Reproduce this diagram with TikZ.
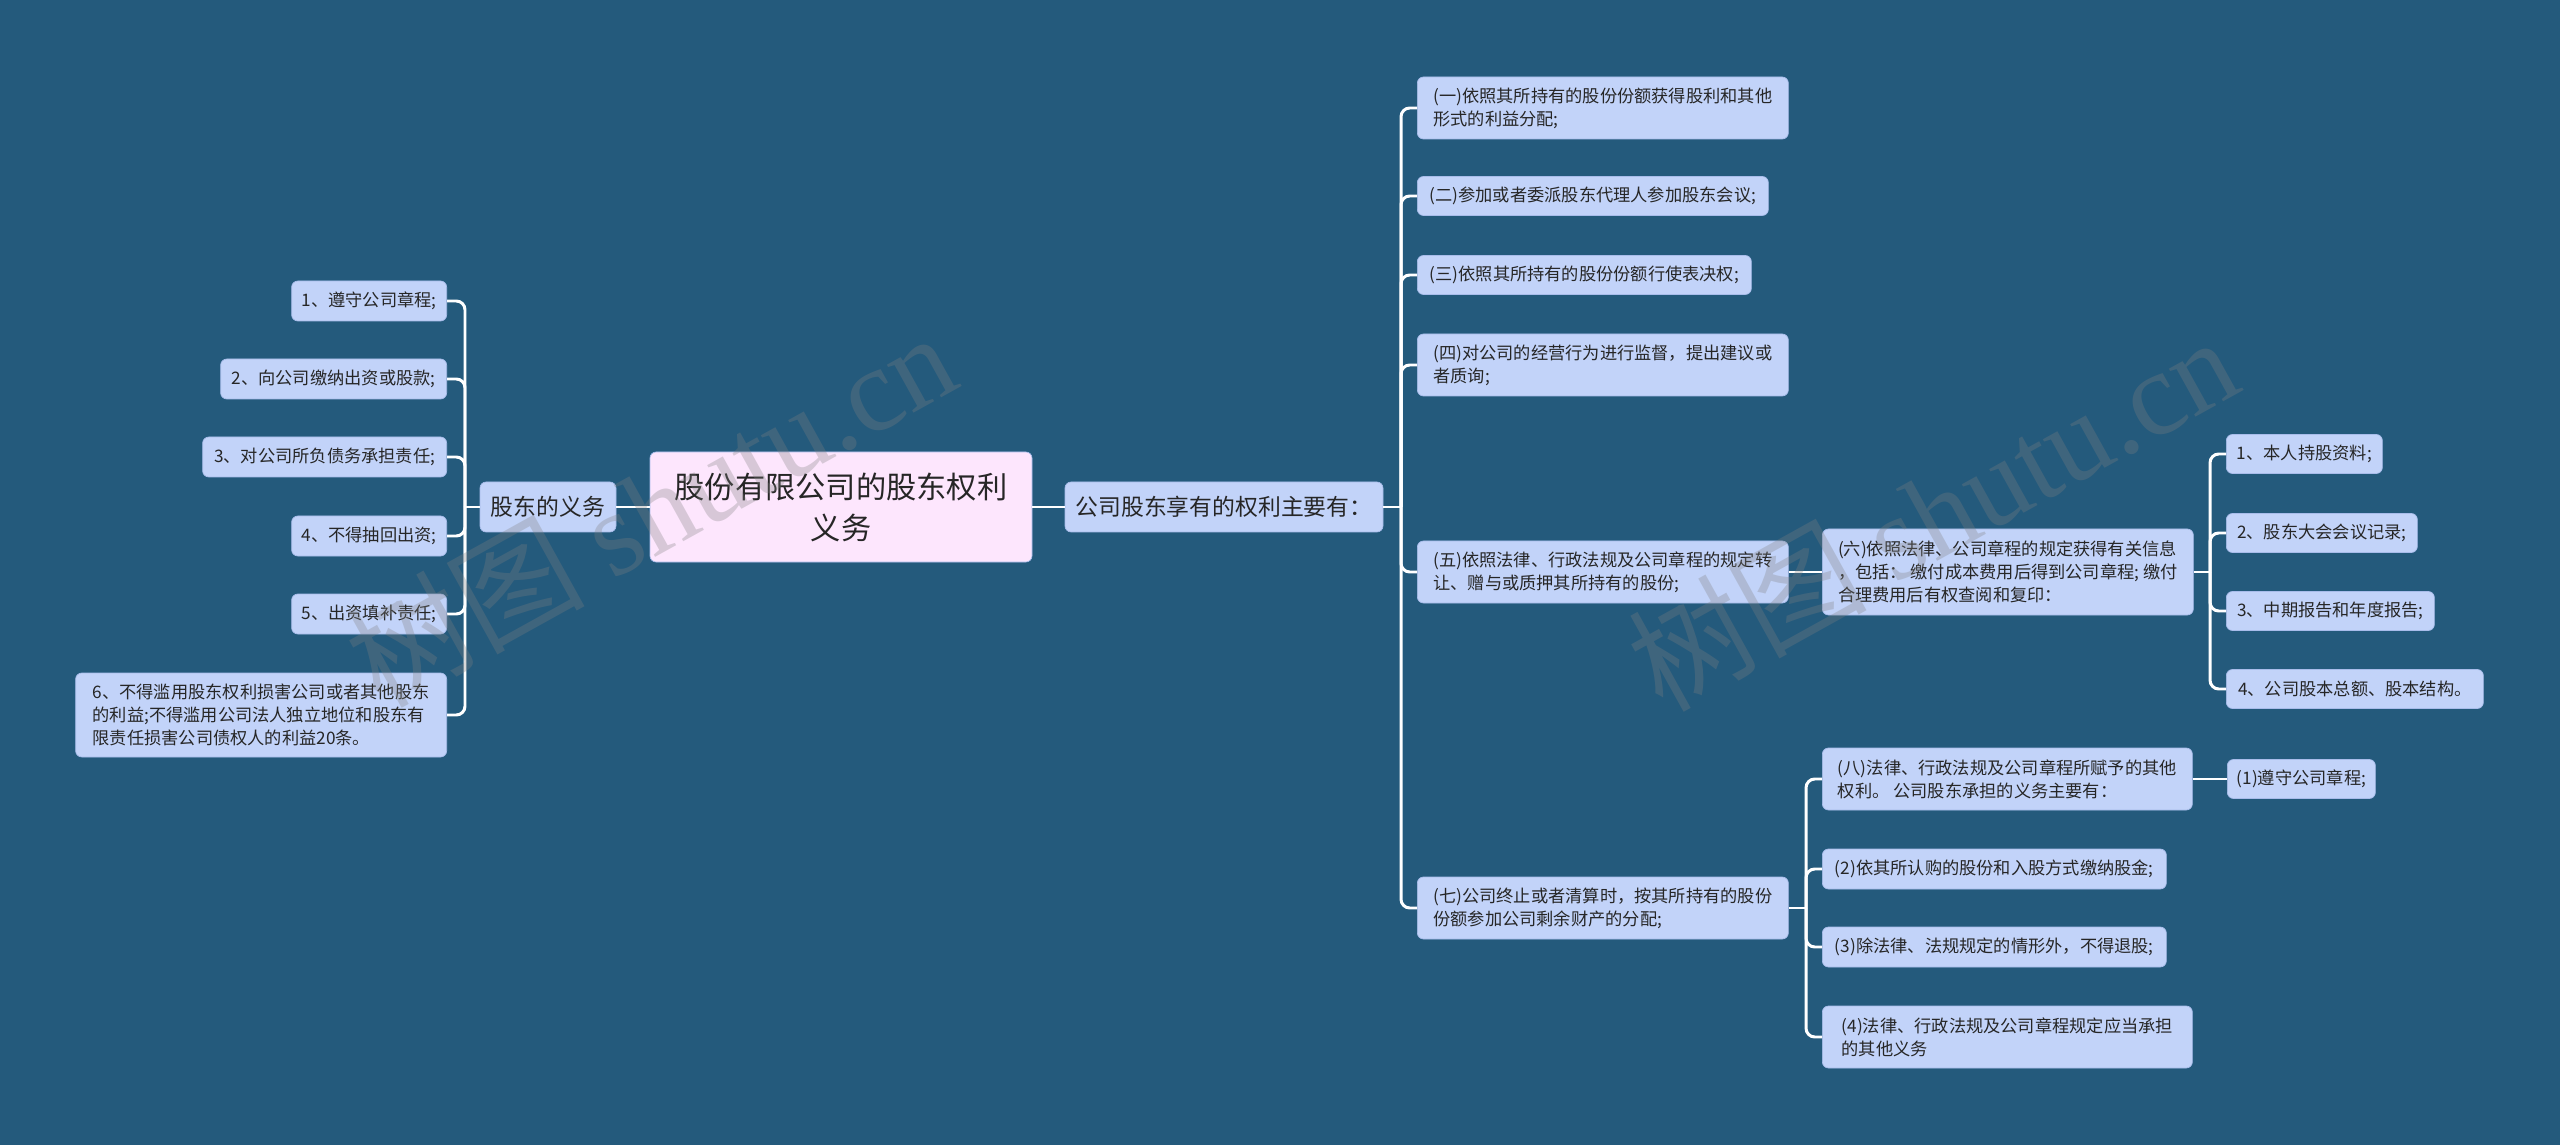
\documentclass[tikz,border=0pt]{standalone}
\usepackage{fontspec}
\setmainfont{Noto Sans CJK SC}
\newfontfamily\wmfont{Liberation Serif}
\usepackage{tikz}
\usetikzlibrary{calc}

\definecolor{bgblue}{RGB}{36,90,124}
\definecolor{boxblue}{RGB}{194,211,249}
\definecolor{boxedge}{RGB}{168,188,234}
\definecolor{rootpink}{RGB}{253,230,253}
\definecolor{txtgray}{RGB}{38,38,38}

\begin{document}
\begin{tikzpicture}[x=0.2mm, y=-0.2mm]
			\def\px{0.2mm}
			\tikzset{
				box/.style 2 args={draw=boxedge, line width=0.4pt, fill=boxblue, rounded corners=3.5pt, text=txtgray, align=left, inner xsep=4.5pt, inner ysep=2pt, minimum width=#1*\px, minimum height=#2*\px, font=\fontsize{9.8}{13.2}\selectfont},
				midbox/.style 2 args={box={#1}{#2}, font=\fontsize{13}{17}\selectfont},
				rootbox/.style 2 args={box={#1}{#2}, fill=rootpink, align=center, font=\fontsize{17.2}{23.3}\selectfont},
				link/.style={draw=white, line width=1.7pt},
				wmark/.style={text=gray, text opacity=0.3, font=\fontsize{68}{68}\selectfont}
			}

			\useasboundingbox (0,0) rectangle (2560,1145);
			\fill[bgblue] (0,0) rectangle (2560,1145);

			% centre
			\node (root) [rootbox={382}{110}] at (841,507) {股份有限公司的股东权利\\义务};
			\node (duty) [midbox={136}{50}] at (548,507) {股东的义务};
			\node (rights) [midbox={318}{50}] at (1224,507) {公司股东享有的权利主要有：};

			% duties, left side
			\node (d1) [box={155}{40}, anchor=east] at (447,301) {1、遵守公司章程;};
			\node (d2) [box={226}{40}, anchor=east] at (447,379) {2、向公司缴纳出资或股款;};
			\node (d3) [box={244}{40}, anchor=east] at (447,457) {3、对公司所负债务承担责任;};
			\node (d4) [box={155}{40}, anchor=east] at (447,536) {4、不得抽回出资;};
			\node (d5) [box={155}{40}, anchor=east] at (447,614) {5、出资填补责任;};
			\node (d6) [box={371}{84}, anchor=east] at (447,715) {6、不得滥用股东权利损害公司或者其他股东\\的利益;不得滥用公司法人独立地位和股东有\\限责任损害公司债权人的利益20条。};

			% rights
			\node (r1) [box={371}{62}, anchor=west] at (1417,108) {(一)依照其所持有的股份份额获得股利和其他\\形式的利益分配;};
			\node (r2) [box={351}{39}, anchor=west] at (1417,196) {(二)参加或者委派股东代理人参加股东会议;};
			\node (r3) [box={334}{39}, anchor=west] at (1417,275) {(三)依照其所持有的股份份额行使表决权;};
			\node (r4) [box={371}{62}, anchor=west] at (1417,365) {(四)对公司的经营行为进行监督，提出建议或\\者质询;};
			\node (r5) [box={371}{62}, anchor=west] at (1417,572) {(五)依照法律、行政法规及公司章程的规定转\\让、赠与或质押其所持有的股份;};
			\node (r7) [box={371}{62}, anchor=west] at (1417,908) {(七)公司终止或者清算时，按其所持有的股份\\份额参加公司剩余财产的分配;};

			\node (r6) [box={371}{86}, anchor=west] at (1822,572) {(六)依照法律、公司章程的规定获得有关信息\\，包括： 缴付成本费用后得到公司章程; 缴付\\合理费用后有权查阅和复印：};
			\node (i1) [box={156}{39}, anchor=west] at (2226,454) {1、本人持股资料;};
			\node (i2) [box={191}{39}, anchor=west] at (2226,533) {2、股东大会会议记录;};
			\node (i3) [box={208}{39}, anchor=west] at (2226,611) {3、中期报告和年度报告;};
			\node (i4) [box={257}{39}, anchor=west] at (2226,689) {4、公司股本总额、股本结构。};

			\node (r8) [box={370}{62}, anchor=west] at (1822,779) {(八)法律、行政法规及公司章程所赋予的其他\\权利。 公司股东承担的义务主要有：};
			\node (o1) [box={148}{39}, anchor=west] at (2227,779) {(1)遵守公司章程;};
			\node (o2) [box={344}{40}, anchor=west] at (1822,869) {(2)依其所认购的股份和入股方式缴纳股金;};
			\node (o3) [box={344}{40}, anchor=west] at (1822,947) {(3)除法律、法规规定的情形外，不得退股;};
			\node (o4) [box={370}{62}, anchor=west] at (1822,1037) {(4)法律、行政法规及公司章程规定应当承担\\的其他义务};

			% connectors
			\coordinate (lbus) at (465,507);
			\coordinate (rbus) at (1401,507);
			\coordinate (sixbus) at (2210,572);
			\coordinate (sevenbus) at (1806,908);

			\draw[link] (root.west) -- (duty.east);
			\draw[link] (root.east) -- (rights.west);
			\draw[link] (duty.west) -- (lbus);
			\draw[link] (rights.east) -- (rbus);
			\draw[link] (r6.east) -- (sixbus);
			\draw[link] (r7.east) -- (sevenbus);
			\draw[link] (r5.east) -- (r6.west);
			\draw[link] (r8.east) -- (o1.west);

			\foreach \c in {d1,d2,d3,d4,d5,d6}
				\draw[link, rounded corners=5pt] (lbus) |- (\c.east);
			\foreach \c in {r1,r2,r3,r4,r5,r7}
				\draw[link, rounded corners=5pt] (rbus) |- (\c.west);
			\foreach \c in {i1,i2,i3,i4}
				\draw[link, rounded corners=5pt] (sixbus) |- (\c.west);
			\foreach \c in {r8,o2,o3,o4}
				\draw[link, rounded corners=5pt] (sevenbus) |- (\c.west);

			% watermark
			\node (wm1) [wmark, rotate=29] at (650,508) {树图 {\wmfont shutu.cn}};
			\node (wm2) [wmark, rotate=29] at (1932,512) {树图 {\wmfont shutu.cn}};
		\end{tikzpicture}
\end{document}
